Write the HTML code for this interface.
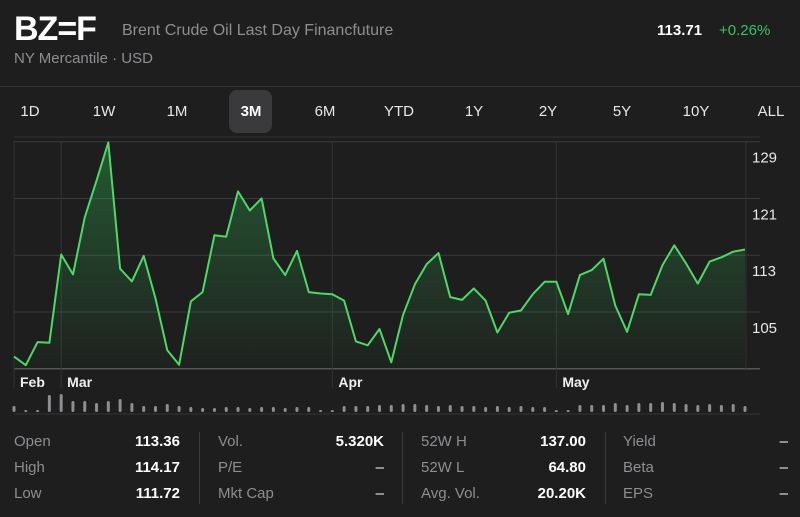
<!DOCTYPE html>
<html><head><meta charset="utf-8"><style>
body{margin:0;background:#1e1e1e;width:800px;height:517px;overflow:hidden;font-family:"Liberation Sans",sans-serif;color:#fff}
.t{position:absolute;white-space:nowrap}
.tab{position:absolute;top:98px;height:28px;line-height:28px;font-size:15px;color:#e8e8e8;transform:translateX(-50%)}
.lbl{position:absolute;font-size:15px;color:#8e8e93}
.val{position:absolute;font-size:15px;color:#fff;text-align:right}
</style></head><body>
<div class="t" style="left:14px;top:10px;font-size:34px;font-weight:bold;letter-spacing:-1px">BZ=F</div>
<div class="t" style="left:122px;top:22px;font-size:16px;color:#8e8e93">Brent Crude Oil Last Day Financfuture</div>
<div class="t" style="left:14px;top:50px;font-size:15px;color:#8e8e93">NY Mercantile · USD</div>
<div class="t" style="left:657px;top:22px;font-size:15px;font-weight:bold">113.71</div>
<div class="t" style="left:719px;top:22px;font-size:15px;color:#34c759">+0.26%</div>
<div style="position:absolute;left:0;top:86px;width:800px;height:1px;background:#333"></div>
<div style="position:absolute;left:229px;top:90px;width:43px;height:43px;border-radius:8px;background:#3a3a3c"></div>
<div class="tab" style="left:30px">1D</div>
<div class="tab" style="left:104px">1W</div>
<div class="tab" style="left:177px">1M</div>
<div class="tab" style="left:251px;font-weight:bold;color:#fff">3M</div>
<div class="tab" style="left:325px">6M</div>
<div class="tab" style="left:399px">YTD</div>
<div class="tab" style="left:474px">1Y</div>
<div class="tab" style="left:548px">2Y</div>
<div class="tab" style="left:622px">5Y</div>
<div class="tab" style="left:696px">10Y</div>
<div class="tab" style="left:771px">ALL</div>
<svg id="chart" width="800" height="420" style="position:absolute;left:0;top:0">
<defs><linearGradient id="g" x1="0" y1="0" x2="0" y2="1"><stop offset="0" stop-color="#34c759" stop-opacity="0.35"/><stop offset="1" stop-color="#34c759" stop-opacity="0.02"/></linearGradient></defs>
</svg>
<div>
<div class="lbl" style="left:14px;top:433px">Open</div>
<div class="val" style="right:620px;top:433px;font-weight:bold">113.36</div>
<div class="lbl" style="left:14px;top:459px">High</div>
<div class="val" style="right:620px;top:459px;font-weight:bold">114.17</div>
<div class="lbl" style="left:14px;top:485px">Low</div>
<div class="val" style="right:620px;top:485px;font-weight:bold">111.72</div>
<div style="position:absolute;left:199px;top:432px;width:1px;height:72px;background:#3a3a3c"></div>
<div class="lbl" style="left:218px;top:433px">Vol.</div>
<div class="val" style="right:416px;top:433px;font-weight:bold">5.320K</div>
<div class="lbl" style="left:218px;top:459px">P/E</div>
<div class="val" style="right:416px;top:459px">–</div>
<div class="lbl" style="left:218px;top:485px">Mkt Cap</div>
<div class="val" style="right:416px;top:485px">–</div>
<div style="position:absolute;left:402px;top:432px;width:1px;height:72px;background:#3a3a3c"></div>
<div class="lbl" style="left:421px;top:433px">52W H</div>
<div class="val" style="right:214px;top:433px;font-weight:bold">137.00</div>
<div class="lbl" style="left:421px;top:459px">52W L</div>
<div class="val" style="right:214px;top:459px;font-weight:bold">64.80</div>
<div class="lbl" style="left:421px;top:485px">Avg. Vol.</div>
<div class="val" style="right:214px;top:485px;font-weight:bold">20.20K</div>
<div style="position:absolute;left:605px;top:432px;width:1px;height:72px;background:#3a3a3c"></div>
<div class="lbl" style="left:623px;top:433px">Yield</div>
<div class="val" style="right:12px;top:433px">–</div>
<div class="lbl" style="left:623px;top:459px">Beta</div>
<div class="val" style="right:12px;top:459px">–</div>
<div class="lbl" style="left:623px;top:485px">EPS</div>
<div class="val" style="right:12px;top:485px">–</div>
</div>
<script>
const prices=[98.7,97.5,100.75,100.65,113.1,110.3,118.3,123.5,128.9,111.1,109.3,112.9,106.9,99.6,97.55,106.5,107.8,115.8,115.6,122.0,119.3,121.0,112.55,110.2,113.6,107.8,107.6,107.5,106.6,100.85,100.3,102.6,97.9,104.6,108.9,111.75,113.3,107.1,106.7,108.3,106.6,102.1,104.9,105.2,107.5,109.25,109.25,104.7,110.2,110.9,112.5,105.9,102.2,107.5,107.4,111.6,114.4,111.85,109.0,112.1,112.7,113.5,113.8];
const volumes=[5,1,1,16,17,10,10,8,10,12,8,5,5,7,5,4,3,3,4,4,3,4,4,3,4,4,1,1,5,5,5,6,6,7,7,6,5,6,5,5,4,5,4,5,4,4,1,1,6,6,6,8,6,8,8,9,8,7,6,7,6,7,5];
const yTicks=[129,121,113,105];
const monthLabels=["Feb","Mar","Apr","May"];
const monthIndex=[0,4,27,46];
const NS="http://www.w3.org/2000/svg";
const svg=document.getElementById('chart');
const X0=14,X1=745,Ytop=141.7,Ybot=368.7,VMAX=129,VMIN=97;
const xs=i=>X0+(X1-X0)*i/(prices.length-1);
const ys=v=>Ytop+(VMAX-v)/(VMAX-VMIN)*(Ybot-Ytop);
function mk(t,a){const e=document.createElementNS(NS,t);for(const k in a)e.setAttribute(k,a[k]);svg.appendChild(e);return e;}
// grid
[VMAX].concat(yTicks.slice(1)).forEach(v=>{});
yTicks.forEach(v=>{
 const l=mk('line',{x1:14,x2:760,y1:ys(v),y2:ys(v),stroke:'#3a3a3c','stroke-width':1});
 
 
 const t=mk('text',{x:752,y:ys(v)+21,fill:'#e8e8e8','font-size':15,'font-family':'Liberation Sans, sans-serif'});
 t.textContent=v;
 
 
});
const bl=mk('line',{x1:14,x2:760,y1:Ybot,y2:Ybot,stroke:'#555','stroke-width':1.5});


const topl=mk('line',{x1:14,x2:760,y1:137,y2:137,stroke:'#333','stroke-width':1});


const rl=mk('line',{x1:X1+1,x2:X1+1,y1:141,y2:Ybot,stroke:'#333','stroke-width':1});


monthLabels.forEach((m,j)=>{
 const x=xs(monthIndex[j]);
 const l=mk('line',{x1:x,x2:x,y1:141,y2:388,stroke:'#333','stroke-width':1});
 
 
 const t=mk('text',{x:x+6,y:387,fill:'#f0f0f0','font-size':14,'font-weight':'bold','font-family':'Liberation Sans, sans-serif'});
 t.textContent=m;
 
 
});
let d=prices.map((v,i)=>(i?'L':'M')+xs(i).toFixed(1)+' '+ys(v).toFixed(1)).join(' ');
const area=mk('path',{d:d+` L${X1} ${Ybot} L${X0} ${Ybot} Z`,fill:'url(#g)'});


const line=mk('path',{d:d,fill:'none',stroke:'#4cd964','stroke-width':2,'stroke-linejoin':'round'});


const vb=mk('line',{x1:14,x2:760,y1:414,y2:414,stroke:'#333','stroke-width':1});


volumes.forEach((v,i)=>{
 const h=Math.max(v,0.5);
 const r=mk('rect',{x:xs(i)-1.5,y:411-h,width:3,height:h+1,rx:1.5,fill:'#8e8e93'});
 
 
});
</script>
</body></html>
